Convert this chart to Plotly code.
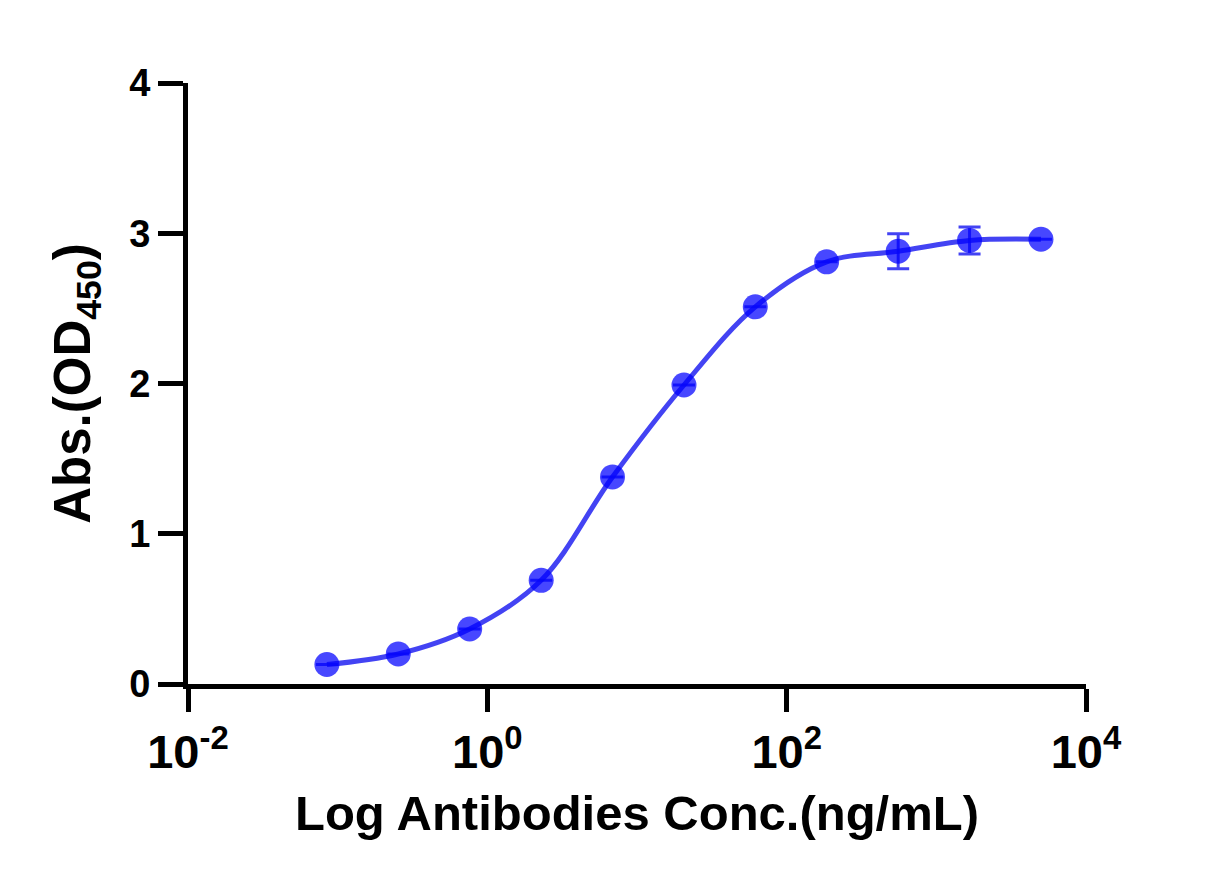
import plotly.graph_objects as go

# 3-fold dilution series (ng/mL) and mean OD450
conc = [0.0847, 0.254, 0.762, 2.29, 6.86, 20.6, 61.7, 185, 556, 1667, 5000]
od450 = [0.13, 0.20, 0.366, 0.69, 1.378, 1.99, 2.51, 2.81, 2.88, 2.952, 2.96]
od_err = [None, None, None, None, None, None, None, None, 0.116, 0.09, None]

tick_vals = [0.01, 1, 100, 10000]
tick_text = ['10<sup>-2</sup>', '10<sup>0</sup>', '10<sup>2</sup>', '10<sup>4</sup>']

blue = 'rgba(0,0,255,0.72)'
font_family = 'Arial, Liberation Sans, sans-serif'

fig = go.Figure()
fig.add_trace(go.Scatter(
    x=conc, y=od450, mode='lines',
    line=dict(color='rgba(20,20,240,0.8)', width=5, shape='spline', smoothing=1.0),
    hoverinfo='skip', showlegend=False))
fig.add_trace(go.Scatter(
    x=conc, y=od450, mode='markers',
    marker=dict(size=25, color=blue, line=dict(width=0)),
    error_y=dict(type='data', array=od_err, visible=True,
                 color='rgba(20,20,240,0.8)', thickness=3, width=11),
    showlegend=False))

fig.update_layout(
    width=1228, height=887,
    margin=dict(l=180, r=150, t=75, b=211),
    paper_bgcolor='white', plot_bgcolor='white',
    font=dict(family=font_family, color='black', weight='bold'),
    xaxis=dict(
        type='log', range=[-2, 4],
        tickvals=tick_vals, ticktext=tick_text,
        tickfont=dict(size=47, family=font_family, weight='bold'),
        ticks='outside', ticklen=23, tickwidth=5, tickcolor='black',
        showline=True, linewidth=5, linecolor='black',
        showgrid=False, zeroline=False,
        title=dict(text='Log Antibodies Conc.(ng/mL)', standoff=20,
                   font=dict(size=49, family=font_family, weight='bold')),
    ),
    yaxis=dict(
        range=[0, 4], tickvals=[0, 1, 2, 3, 4],
        tickfont=dict(size=38, family=font_family, weight='bold'),
        ticks='outside', ticklen=25, tickwidth=5, tickcolor='black',
        showline=True, linewidth=5, linecolor='black',
        showgrid=False, zeroline=False,
        title=dict(text='Abs.(OD<sub>450</sub>)', standoff=24,
                   font=dict(size=51, family=font_family, weight='bold')),
    ),
)

fig.write_html("out.html")
